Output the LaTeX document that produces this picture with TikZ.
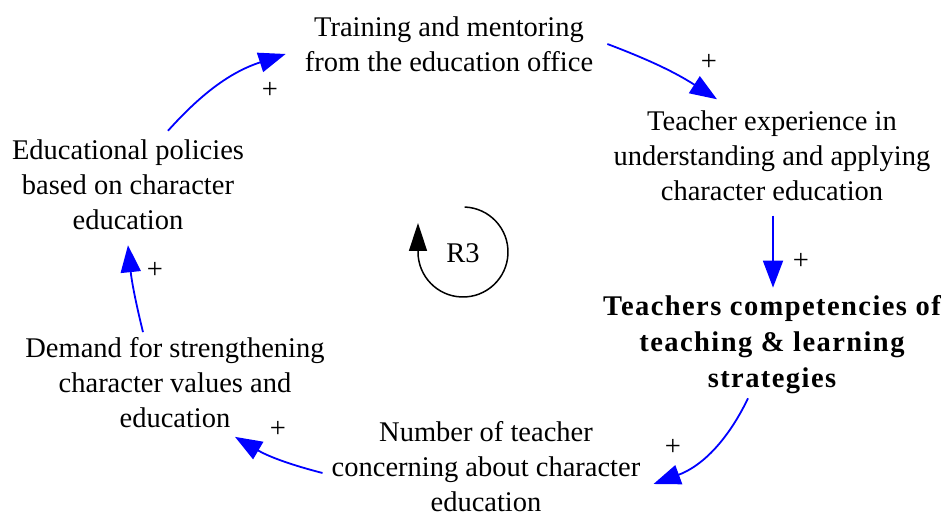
\documentclass[tikz,border=0pt]{standalone}
\usepackage{fontspec}
\setmainfont{Liberation Serif}
\usetikzlibrary{arrows.meta}
\definecolor{linkblue}{RGB}{0,0,255}
\begin{document}
\begin{tikzpicture}[x=1pt,y=1pt,
  var/.style={align=center, inner sep=3pt, font=\fontsize{28.5}{35}\selectfont},
  pol/.style={inner sep=0pt, font=\fontsize{28.5}{35}\selectfont},
  link/.style={draw=linkblue, line width=1.8pt, -{Triangle[length=27pt,width=20pt]}, fill=none}]
\useasboundingbox (0,0) rectangle (950,519);

\node[var] (tr) at (449,475) {Training and mentoring\\from the education office};
\node[var] (te) at (772,363.5) {Teacher experience in\\understanding and applying\\character education};
\node[var, font=\fontsize{28.5}{36}\selectfont\bfseries\addfontfeature{LetterSpace=5}] (tc) at (772,174) {Teachers competencies of\\teaching \& learning\\strategies};
\node[var] (nt) at (486,52.5) {Number of teacher\\concerning about character\\education};
\node[var] (dm) at (175,136.5) {Demand for strengthening\\character values and\\education};
\node[var] (ed) at (128,334) {Educational policies\\based on character\\education};

\node[pol] (p1) at (270,429) {+};
\node[pol] (p2) at (709,457) {+};
\node[pol] (p3) at (801,258) {+};
\node[pol] (p4) at (673,72) {+};
\node[pol] (p5) at (278,90) {+};
\node[pol] (p6) at (155,249) {+};

\path[link] ([shift={(40,6)}]ed.north) to[bend left=15] ([shift={(-16,-10)}]tr.west);
\path[link] ([shift={(11,0)}]tr.east) to[bend left=6] ([shift={(-55,8)}]te.north);
\path[link] ([shift={(1,-12)}]te.south) -- ([shift={(1,5)}]tc.north);
\path[link] ([shift={(-24,-1)}]tc.south) to[bend left=22] ([shift={(10,-17.5)}]nt.east);
\path[link] ([shift={(-6,-6.5)}]nt.west) to[bend left=8] ([shift={(60,-6)}]dm.south);
\path[link] ([shift={(-32,2)}]dm.north) to[bend left=4] ([shift={(0,-12)}]ed.south);

% loop marker
\coordinate (r3c) at (463,267);
\node[pol] (r3) at (463,266) {R3};
\draw[line width=1.5pt, -{Triangle[length=28pt,width=18pt]}] (r3c) ++(88:45) arc[start angle=88, end angle=-180, radius=45] -- ++(0,29);
\end{tikzpicture}
\end{document}
